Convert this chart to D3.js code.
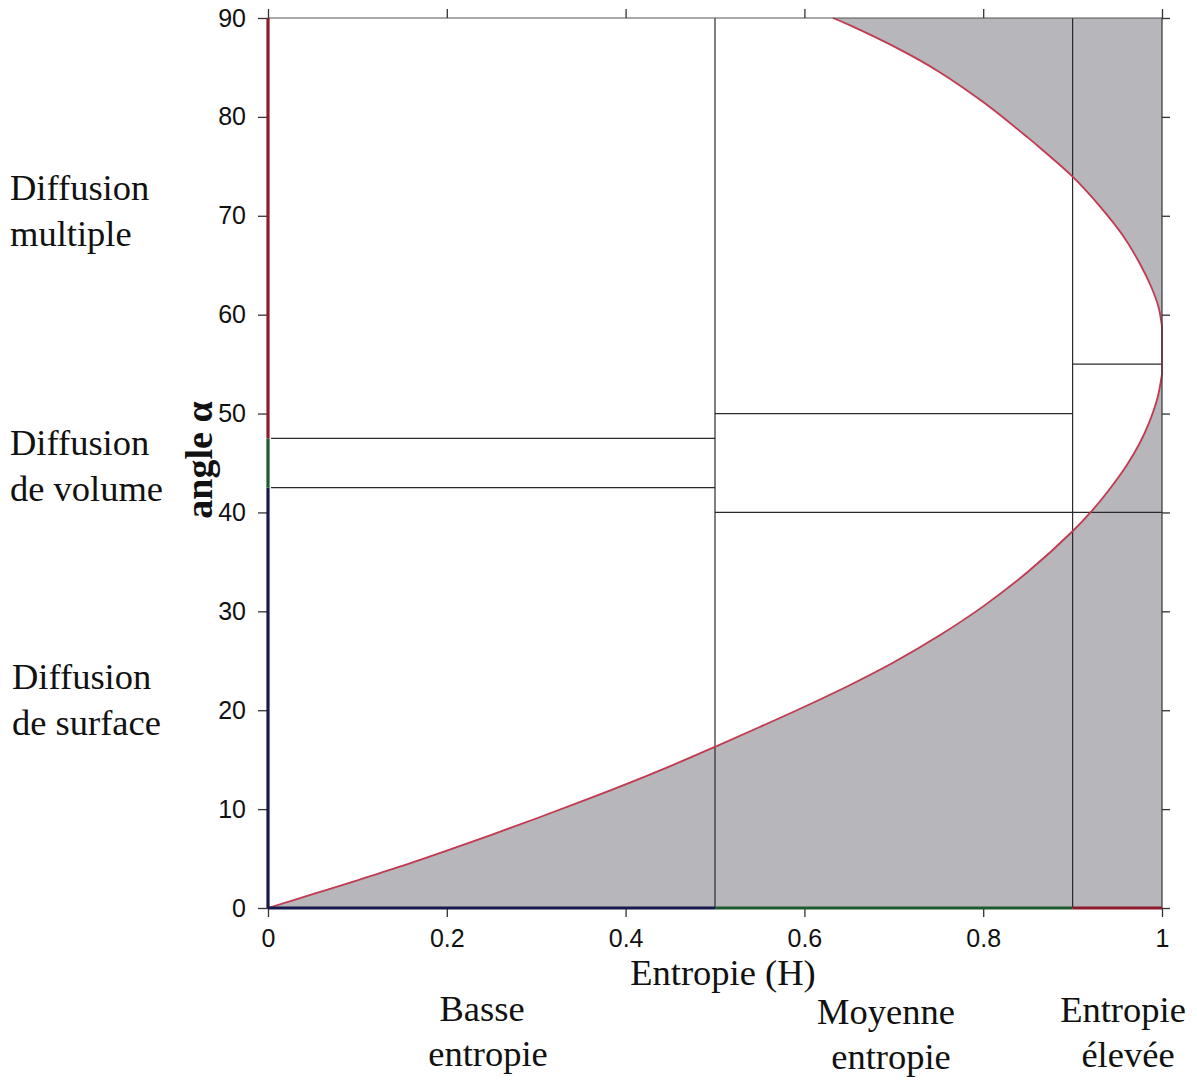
<!DOCTYPE html>
<html>
<head>
<meta charset="utf-8">
<script src="https://cdn.jsdelivr.net/npm/d3@7"></script>
<style>
  html, body { margin: 0; padding: 0; background: #fff; }
  svg { display: block; }
</style>
</head>
<body>
<svg id="chart" width="1197" height="1081"></svg>
<script>
// Tick values and labels
const xTicks = [0, 0.2, 0.4, 0.6, 0.8, 1];
const xTickLabels = ["0", "0.2", "0.4", "0.6", "0.8", "1"];
const yTicks = [0, 10, 20, 30, 40, 50, 60, 70, 80, 90];
const yTickLabels = ["0", "10", "20", "30", "40", "50", "60", "70", "80", "90"];

// Lower boundary of the feasible H / alpha region
const lowerH =     [0, 0.05, 0.1, 0.15, 0.2, 0.25, 0.3, 0.35, 0.4, 0.45, 0.5, 0.55, 0.6, 0.65, 0.7, 0.75, 0.8, 0.85, 0.9, 0.92, 0.94, 0.96, 0.975, 0.985, 0.995, 1.0];
const lowerAlpha = [0, 1.4, 2.8, 4.25, 5.8, 7.4, 9.05, 10.75, 12.5, 14.35, 16.3, 18.3, 20.35, 22.5, 24.85, 27.5, 30.5, 34.0, 38.1, 40.0, 42.2, 44.7, 47.0, 48.95, 51.6, 54.0];

// Upper boundary of the feasible H / alpha region
const upperH =     [0.632, 0.65, 0.707, 0.75, 0.8, 0.85, 0.867, 0.9, 0.931, 0.957, 0.975, 0.988, 0.996, 1.0];
const upperAlpha = [90, 89.3, 86.8, 84.6, 81.5, 77.9, 76.6, 73.95, 70.9, 67.9, 65.2, 62.8, 60.8, 58.8];

// Entropy zones and the alpha limits drawn inside each zone
const zoneStart = [0, 0.5, 0.9];
const zoneEnd = [0.5, 0.9, 1];
const zoneAlphaLow = [42.5, 40, 40];
const zoneAlphaHigh = [47.5, 50, 55];
const zoneColors = ["#17194d", "#1d5a30", "#8e1a2a"];

// Left axis segments (alpha ranges) coloured by scattering type
const alphaBandLow = [0, 42.5, 47.5];
const alphaBandHigh = [42.5, 47.5, 90];
const alphaBandColors = ["#17194d", "#1d5a30", "#8e1a2a"];

// Side and bottom annotations
const leftLabels = [["Diffusion", "multiple"], ["Diffusion", "de volume"], ["Diffusion", "de surface"]];
const leftLabelY = [200, 455, 689];
const leftLabelX = [10, 10, 12];
const bottomLabels = [["Basse", "entropie"], ["Moyenne", "entropie"], ["Entropie", "élevée"]];
const bottomLabelX = [[482, 488], [886, 891], [1123, 1128]];
const bottomLabelY = [[1021, 1066], [1024, 1069], [1022, 1067]];

const svg = d3.select("#chart");
const x = d3.scaleLinear().domain([0, 1]).range([268, 1162]);
const y = d3.scaleLinear().domain([0, 90]).range([908, 18]);

const gray = "#b6b6bb";
const lineCol = "#2a2a2a";

// Grey background for the non-feasible zone
svg.append("rect")
  .attr("x", x(0)).attr("y", y(90))
  .attr("width", x(1) - x(0)).attr("height", y(0) - y(90))
  .attr("fill", gray);

const lower = lowerH.map((h, i) => [h, lowerAlpha[i]]);
const upper = upperH.map((h, i) => [h, upperAlpha[i]]);

const smooth = d3.line().x(d => x(d[0])).y(d => y(d[1])).curve(d3.curveCatmullRom.alpha(0.5));
const lowerPath = smooth(lower);
const upperRevPath = smooth(upper.slice().reverse());

// Feasible region in white: lower curve, right edge, upper curve, back along top/left
svg.append("path")
  .attr("d", lowerPath + "L" + upperRevPath.slice(1) + `L${x(0)},${y(90)}Z`)
  .attr("fill", "#fff");

// Zone boundaries
const zones = svg.append("g").attr("stroke", lineCol).attr("stroke-width", 1.2).attr("fill", "none");
[0.5, 0.9].forEach(h => {
  zones.append("line").attr("x1", x(h)).attr("x2", x(h)).attr("y1", y(0)).attr("y2", y(90));
});
zoneStart.forEach((h0, i) => {
  [zoneAlphaLow[i], zoneAlphaHigh[i]].forEach(a => {
    zones.append("line")
      .attr("x1", x(h0) + (i === 0 ? 3 : 0)).attr("x2", x(zoneEnd[i]))
      .attr("y1", y(a)).attr("y2", y(a));
  });
});

// Boundary curve
svg.append("path")
  .attr("d", lowerPath + "L" + upperRevPath.slice(1))
  .attr("fill", "none")
  .attr("stroke", "#c23a50")
  .attr("stroke-width", 1.8);

// Top and right frame
svg.append("line").attr("x1", x(0)).attr("x2", x(1)).attr("y1", y(90)).attr("y2", y(90))
  .attr("stroke", "#555").attr("stroke-width", 1.2);
svg.append("line").attr("x1", x(1)).attr("x2", x(1)).attr("y1", y(90)).attr("y2", y(0))
  .attr("stroke", "#333").attr("stroke-width", 1.2);

// Axes with ticks
const axisBottom = svg.append("g").attr("transform", `translate(0,${y(0)})`)
  .call(d3.axisBottom(x).tickValues(xTicks).tickFormat((d, i) => xTickLabels[i]).tickSize(9).tickPadding(12));
const axisTop = svg.append("g").attr("transform", `translate(0,${y(90)})`)
  .call(d3.axisTop(x).tickValues(xTicks).tickFormat("").tickSize(9));
const axisLeft = svg.append("g").attr("transform", `translate(${x(0)},0)`)
  .call(d3.axisLeft(y).tickValues(yTicks).tickFormat((d, i) => yTickLabels[i]).tickSize(10).tickPadding(12));
const axisRight = svg.append("g").attr("transform", `translate(${x(1)},0)`)
  .call(d3.axisRight(y).tickValues(yTicks).tickFormat("").tickSize(8));

[axisBottom, axisTop, axisLeft, axisRight].forEach(g => {
  g.select(".domain").remove();
  g.selectAll(".tick line").attr("stroke", "#333").attr("stroke-width", 1.3);
  g.selectAll(".tick text")
    .attr("font-family", "'Liberation Sans', Arial, sans-serif")
    .attr("font-size", 25)
    .attr("fill", "#111");
});

// Coloured left axis
alphaBandLow.forEach((a0, i) => {
  svg.append("line")
    .attr("x1", x(0)).attr("x2", x(0))
    .attr("y1", y(a0)).attr("y2", y(alphaBandHigh[i]))
    .attr("stroke", alphaBandColors[i]).attr("stroke-width", 3.2);
});
// Coloured bottom axis
zoneStart.forEach((h0, i) => {
  svg.append("line")
    .attr("x1", x(h0)).attr("x2", x(zoneEnd[i]))
    .attr("y1", y(0)).attr("y2", y(0))
    .attr("stroke", zoneColors[i]).attr("stroke-width", 3.2);
});

const serif = "'Liberation Serif', 'Times New Roman', serif";

// Axis titles
svg.append("text")
  .attr("transform", `translate(212,460) rotate(-90)`)
  .attr("text-anchor", "middle")
  .attr("font-family", serif)
  .attr("font-weight", "bold")
  .attr("font-size", 38)
  .attr("fill", "#111")
  .text("angle α");

svg.append("text")
  .attr("x", 723).attr("y", 985)
  .attr("text-anchor", "middle")
  .attr("font-family", serif)
  .attr("font-size", 36.5)
  .attr("fill", "#111")
  .text("Entropie (H)");

// Scattering mechanism labels
leftLabels.forEach((lines, i) => {
  lines.forEach((t, j) => {
    svg.append("text")
      .attr("x", leftLabelX[i]).attr("y", leftLabelY[i] + j * 46)
      .attr("font-family", serif)
      .attr("font-size", 36.5)
      .attr("fill", "#111")
      .text(t);
  });
});

// Entropy class labels
bottomLabels.forEach((lines, i) => {
  lines.forEach((t, j) => {
    svg.append("text")
      .attr("x", bottomLabelX[i][j]).attr("y", bottomLabelY[i][j])
      .attr("text-anchor", "middle")
      .attr("font-family", serif)
      .attr("font-size", 36.5)
      .attr("fill", "#111")
      .text(t);
  });
});
</script>
</body>
</html>
